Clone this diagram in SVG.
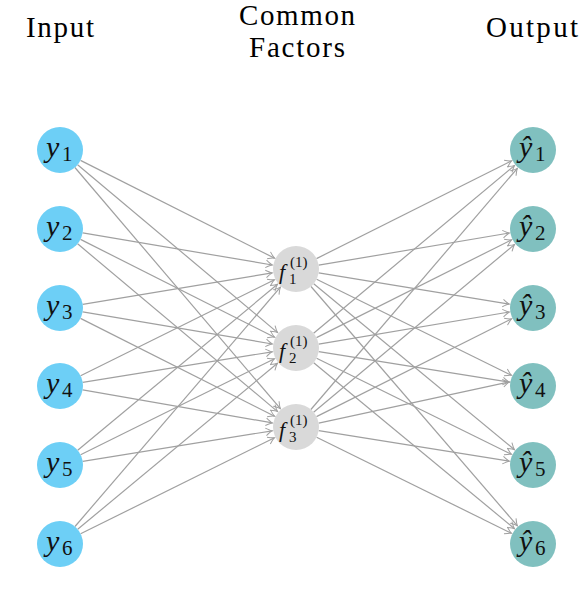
<svg xmlns="http://www.w3.org/2000/svg" width="580" height="602" viewBox="0 0 580 602">
<defs>
<marker id="arr" markerUnits="userSpaceOnUse" markerWidth="12" markerHeight="12" viewBox="-8 -6 10 12" refX="0" refY="0" orient="auto" overflow="visible">
<path d="M-6.5,-3.8 Q-2,-0.6 0,0 Q-2,0.6 -6.5,3.8" fill="none" stroke="#a0a0a0" stroke-width="1"/>
</marker>
<style>
.t{font-family:"Liberation Serif","DejaVu Serif",serif;font-size:29px;fill:#000}
.edge line{stroke:#a0a0a0;stroke-width:1.2;marker-end:url(#arr)}
.in{fill:#6dcff6}
.hid{fill:#d9d9d9}
.out{fill:#80c0bf}
.v{font-family:"Liberation Serif","DejaVu Serif",serif;font-style:italic;font-size:30px;fill:#111}
.s{font-family:"Liberation Serif","DejaVu Serif",serif;font-size:21px;fill:#111}
.fv{font-family:"Liberation Serif","DejaVu Serif",serif;font-style:italic;font-size:22px;fill:#111}
.fs{font-family:"Liberation Serif","DejaVu Serif",serif;font-size:15px;fill:#111}
</style>
</defs>
<rect width="580" height="602" fill="#ffffff"/>
<g id="titles">
<text class="t" x="60" y="37" text-anchor="middle" textLength="68" lengthAdjust="spacing">Input</text>
<text class="t" x="297" y="25" text-anchor="middle" textLength="116" lengthAdjust="spacing">Common</text>
<text class="t" x="297" y="57" text-anchor="middle" textLength="96" lengthAdjust="spacing">Factors</text>
<text class="t" x="532" y="37" text-anchor="middle" textLength="92" lengthAdjust="spacing">Output</text>
</g>
<g id="connectors" class="edge">
<line x1="80.5" y1="160.4" x2="274.6" y2="258.2"/>
<line x1="77.6" y1="164.8" x2="277.6" y2="332.6"/>
<line x1="74.9" y1="167.5" x2="280.4" y2="408.7"/>
<line x1="82.7" y1="232.8" x2="272.3" y2="265"/>
<line x1="80.5" y1="239.4" x2="274.6" y2="337.2"/>
<line x1="77.6" y1="243.8" x2="277.6" y2="411.6"/>
<line x1="82.7" y1="304.3" x2="272.3" y2="272.9"/>
<line x1="82.7" y1="311.8" x2="272.3" y2="344"/>
<line x1="80.5" y1="318.4" x2="274.6" y2="416.2"/>
<line x1="80.6" y1="375.8" x2="274.5" y2="279.7"/>
<line x1="82.7" y1="382.3" x2="272.3" y2="351.8"/>
<line x1="82.7" y1="389.9" x2="272.4" y2="422.9"/>
<line x1="77.7" y1="450.3" x2="277.5" y2="284.3"/>
<line x1="80.6" y1="454.8" x2="274.5" y2="358.7"/>
<line x1="82.7" y1="461.3" x2="272.3" y2="430.8"/>
<line x1="75" y1="526.5" x2="280.4" y2="287.2"/>
<line x1="77.7" y1="529.3" x2="277.5" y2="363.3"/>
<line x1="80.6" y1="533.8" x2="274.5" y2="437.7"/>
<line x1="316.5" y1="258.6" x2="511.6" y2="160.8"/>
<line x1="318.7" y1="265.2" x2="509.3" y2="233"/>
<line x1="318.7" y1="272.8" x2="509.3" y2="304.1"/>
<line x1="316.6" y1="279.2" x2="511.5" y2="375.3"/>
<line x1="313.7" y1="283.7" x2="514.5" y2="449.7"/>
<line x1="311" y1="286.5" x2="517.4" y2="525.8"/>
<line x1="313.6" y1="333.2" x2="514.6" y2="165.4"/>
<line x1="316.5" y1="337.6" x2="511.6" y2="239.8"/>
<line x1="318.7" y1="344.2" x2="509.3" y2="312"/>
<line x1="318.7" y1="351.7" x2="509.3" y2="382.2"/>
<line x1="316.6" y1="358.2" x2="511.5" y2="454.3"/>
<line x1="313.7" y1="362.7" x2="514.5" y2="528.7"/>
<line x1="310.9" y1="409.5" x2="517.4" y2="168.3"/>
<line x1="313.6" y1="412.2" x2="514.6" y2="244.4"/>
<line x1="316.5" y1="416.6" x2="511.6" y2="318.8"/>
<line x1="318.7" y1="423.1" x2="509.4" y2="381.9"/>
<line x1="318.7" y1="430.7" x2="509.3" y2="461.2"/>
<line x1="316.6" y1="437.2" x2="511.5" y2="533.3"/>
</g>
<g id="y1"><circle class="in" cx="60" cy="150" r="23"/><text class="v" x="46" y="157">y</text><text class="s" x="62" y="161">1</text></g>
<g id="y2"><circle class="in" cx="60" cy="229" r="23"/><text class="v" x="46" y="236">y</text><text class="s" x="62" y="240">2</text></g>
<g id="y3"><circle class="in" cx="60" cy="308" r="23"/><text class="v" x="46" y="315">y</text><text class="s" x="62" y="319">3</text></g>
<g id="y4"><circle class="in" cx="60" cy="386" r="23"/><text class="v" x="46" y="393">y</text><text class="s" x="62" y="397">4</text></g>
<g id="y5"><circle class="in" cx="60" cy="465" r="23"/><text class="v" x="46" y="472">y</text><text class="s" x="62" y="476">5</text></g>
<g id="y6"><circle class="in" cx="60" cy="544" r="23"/><text class="v" x="46" y="551">y</text><text class="s" x="62" y="555">6</text></g>
<g id="f1"><circle class="hid" cx="296" cy="269" r="23"/><text class="fv" x="279" y="279">f</text><text class="fs" x="290" y="267">(1)</text><text class="fs" x="289" y="284">1</text></g>
<g id="f2"><circle class="hid" cx="296" cy="348" r="23"/><text class="fv" x="279" y="358">f</text><text class="fs" x="290" y="346">(1)</text><text class="fs" x="289" y="363">2</text></g>
<g id="f3"><circle class="hid" cx="296" cy="427" r="23"/><text class="fv" x="279" y="437">f</text><text class="fs" x="290" y="425">(1)</text><text class="fs" x="289" y="442">3</text></g>
<g id="yhat1"><circle class="out" cx="533" cy="150" r="23"/><text class="v" x="519" y="157">ŷ</text><text class="s" x="535" y="161">1</text></g>
<g id="yhat2"><circle class="out" cx="533" cy="229" r="23"/><text class="v" x="519" y="236">ŷ</text><text class="s" x="535" y="240">2</text></g>
<g id="yhat3"><circle class="out" cx="533" cy="308" r="23"/><text class="v" x="519" y="315">ŷ</text><text class="s" x="535" y="319">3</text></g>
<g id="yhat4"><circle class="out" cx="533" cy="386" r="23"/><text class="v" x="519" y="393">ŷ</text><text class="s" x="535" y="397">4</text></g>
<g id="yhat5"><circle class="out" cx="533" cy="465" r="23"/><text class="v" x="519" y="472">ŷ</text><text class="s" x="535" y="476">5</text></g>
<g id="yhat6"><circle class="out" cx="533" cy="544" r="23"/><text class="v" x="519" y="551">ŷ</text><text class="s" x="535" y="555">6</text></g>
</svg>
